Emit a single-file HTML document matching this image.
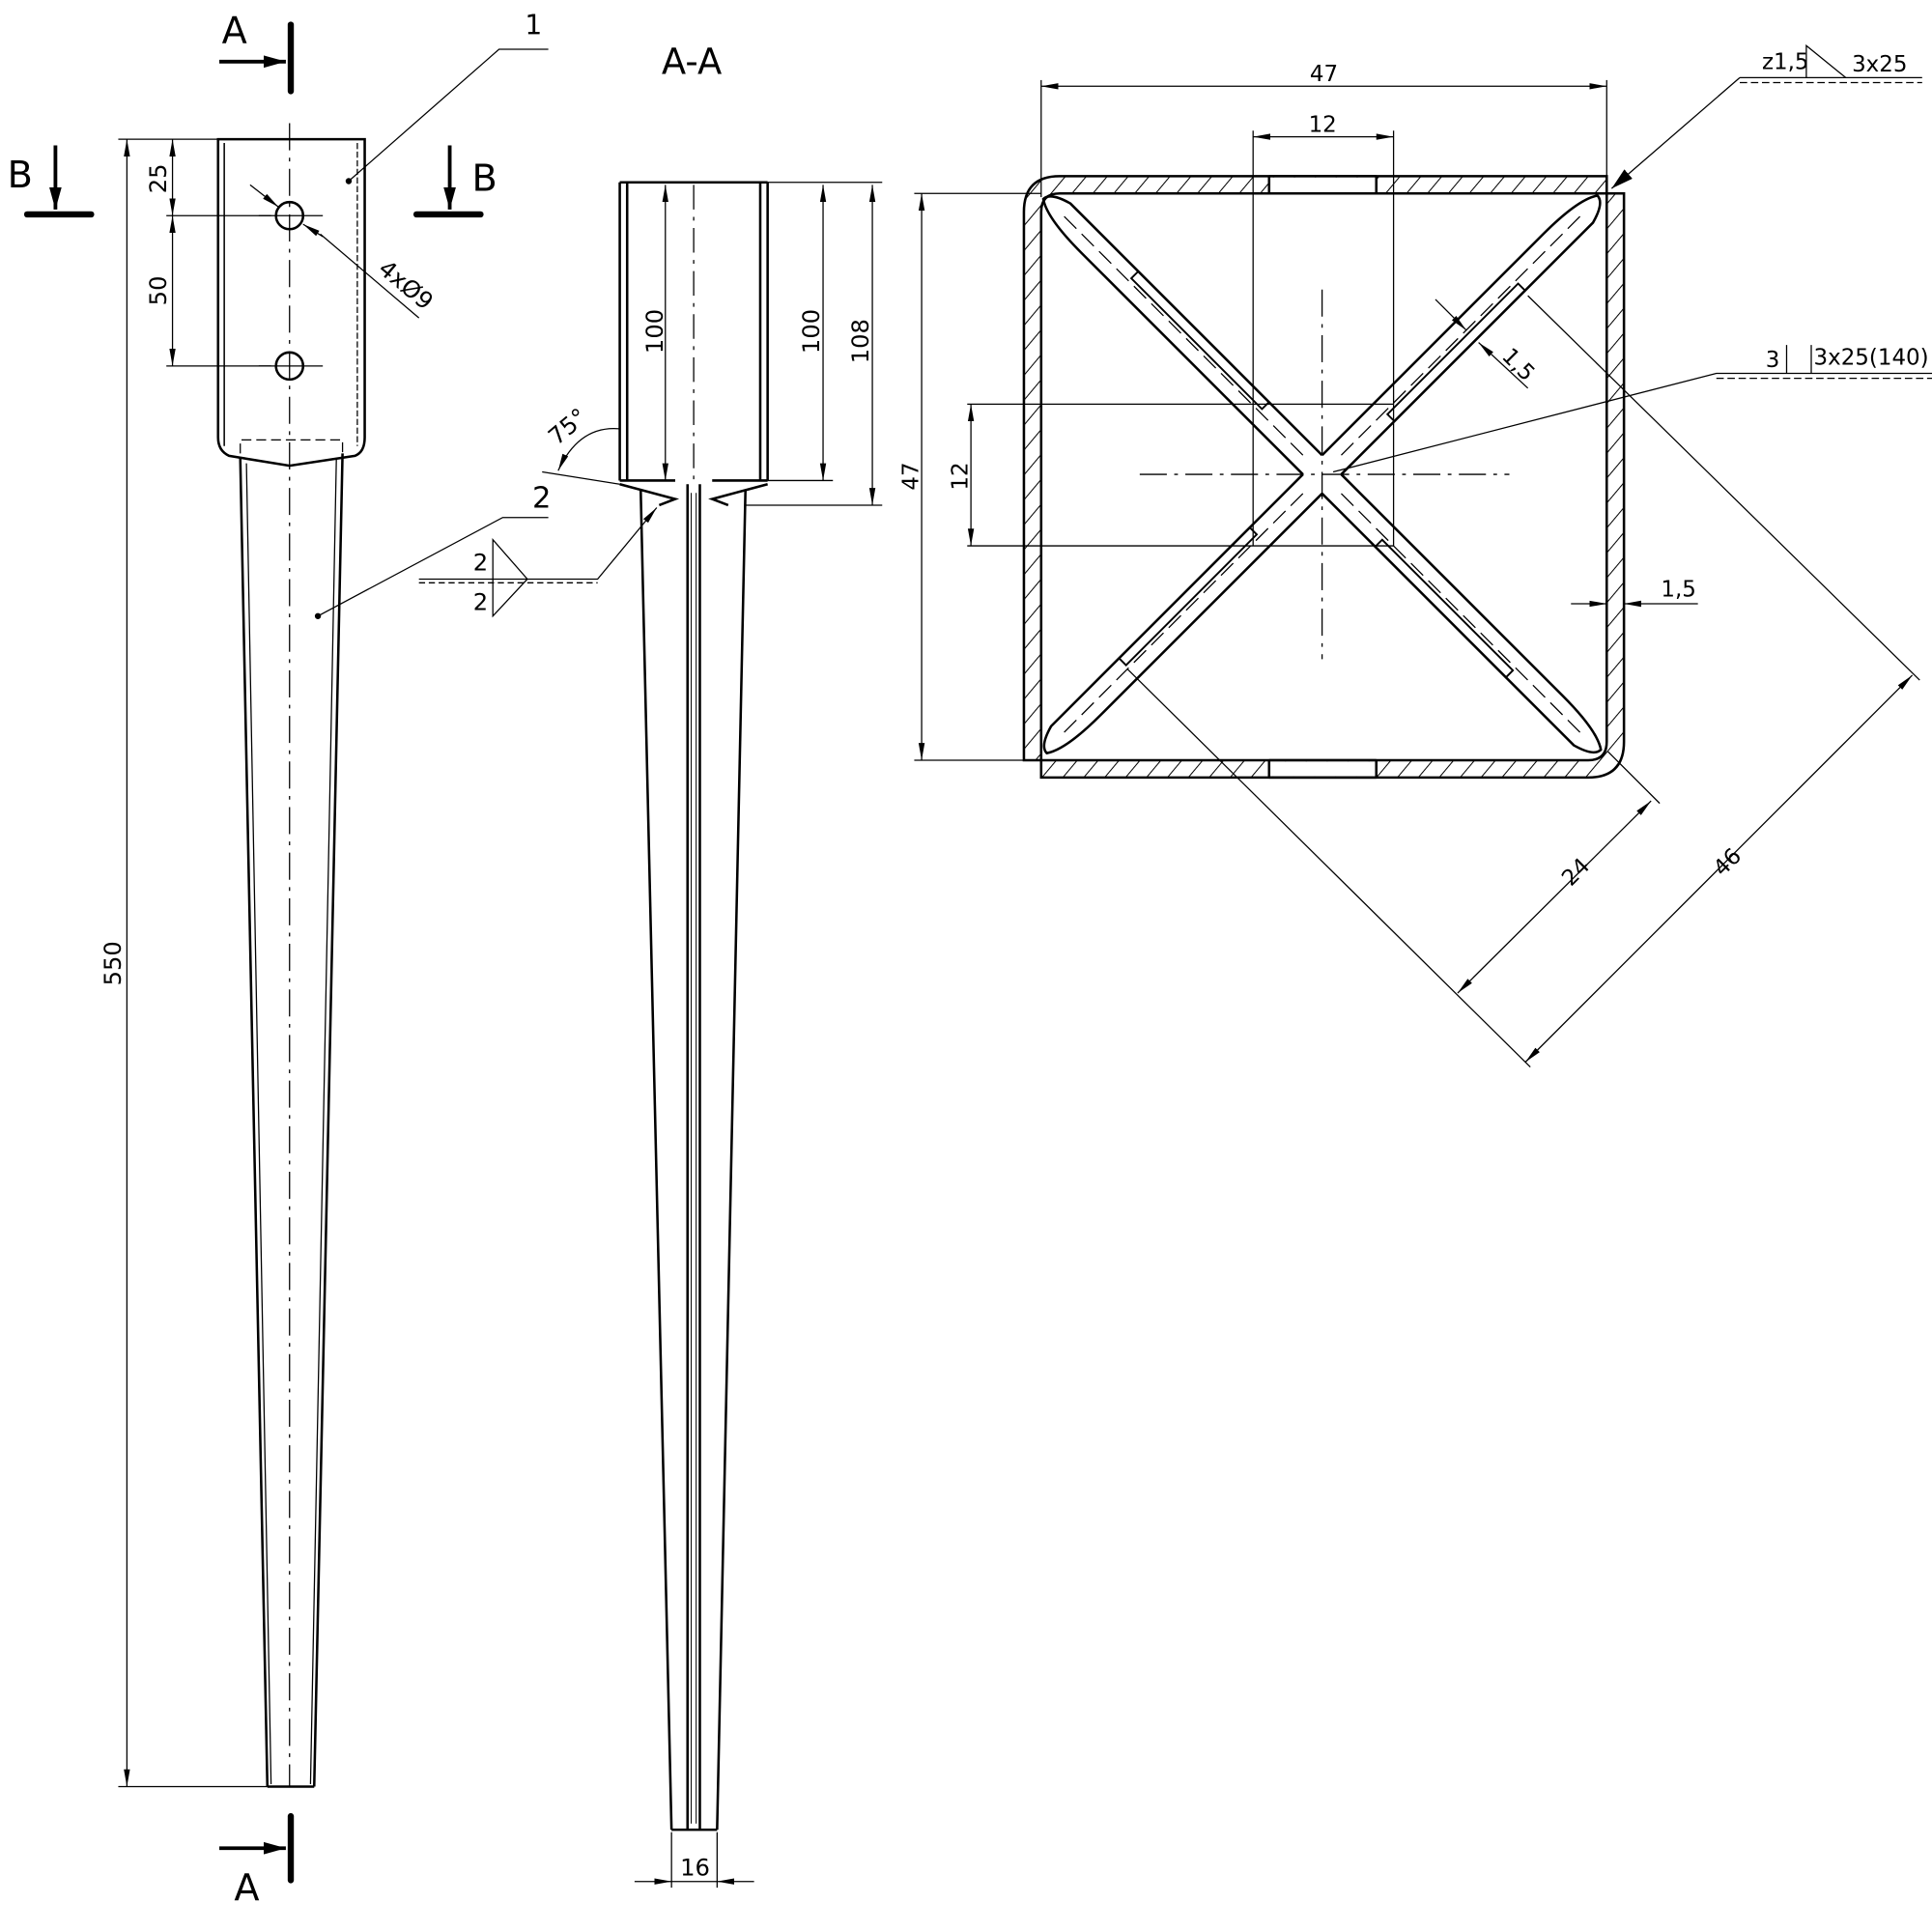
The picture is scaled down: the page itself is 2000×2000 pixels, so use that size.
<!DOCTYPE html>
<html><head><meta charset="utf-8"><style>html,body{margin:0;padding:0;background:#fff}svg{display:block}</style></head>
<body>
<svg width="2000" height="2000" viewBox="0 0 1568 1568" xmlns="http://www.w3.org/2000/svg" font-family="DejaVu Sans, Liberation Sans, sans-serif" fill="none" stroke="#000">
<defs>
<pattern id="h" width="13" height="13" patternUnits="userSpaceOnUse" patternTransform="rotate(40)">
<line x1="0" y1="0" x2="0" y2="13" stroke="#000" stroke-width="1.6"/></pattern>
<marker id="ar" viewBox="0 0 14 6" refX="14" refY="3" markerWidth="14" markerHeight="6" orient="auto-start-reverse" markerUnits="userSpaceOnUse"><path d="M0,0.5 L14,3 L0,5.5z" fill="#000" stroke="none"/></marker>
<marker id="ab" viewBox="0 0 18 10" refX="18" refY="5" markerWidth="18" markerHeight="10" orient="auto" markerUnits="userSpaceOnUse"><path d="M0,0 L18,5 L0,10z" fill="#000" stroke="none"/></marker>
<g id="arm">
<path d="M11,-11 H265 Q305,-11 318,-2 Q318,6 300,11 H11" stroke-width="2"/>
<line x1="22" y1="0" x2="300" y2="0" stroke-width="1" stroke-dasharray="14,6"/>
<rect x="72" y="3" width="150" height="8" stroke-width="1.5"/>
</g>
</defs>

<!-- ===== LEFT VIEW ===== -->
<line x1="235" y1="100" x2="235" y2="1450" stroke-width="1" stroke-dasharray="22,6,3,6"/>
<g fill="#000" stroke="none" font-size="30">
<text x="180" y="35">A</text><text x="190" y="1542">A</text>
<text x="6" y="152">B</text><text x="383" y="155">B</text>
</g>
<g stroke-width="5" stroke-linecap="round">
<line x1="236" y1="20" x2="236" y2="74"/><line x1="236" y1="1474" x2="236" y2="1526"/>
<line x1="22" y1="174" x2="74" y2="174"/><line x1="338" y1="174" x2="390" y2="174"/>
</g>
<g stroke-width="3" marker-end="url(#ab)">
<line x1="178" y1="50" x2="232" y2="50"/><line x1="178" y1="1500" x2="232" y2="1500"/>
<line x1="45" y1="118" x2="45" y2="170"/><line x1="365" y1="118" x2="365" y2="170"/>
</g>
<g stroke-width="2">
<path d="M177,113 H296 V355 Q296,367 288,370 L235,378 L186,370 Q177,366 177,355 Z"/>
<line x1="182" y1="116" x2="182" y2="362" stroke-width="1.2"/>
<line x1="290" y1="116" x2="290" y2="362" stroke-width="1" stroke-dasharray="5,2"/>
<path d="M195,368 V357 H278 V368" stroke-width="1" stroke-dasharray="8,4"/>
<circle cx="235" cy="175" r="11"/><circle cx="235" cy="297" r="11"/>
<path d="M195,372 L217,1450 M278,368 L255,1450 M217,1450 H255"/>
<path d="M200,376 L220,1448 M273,372 L252,1448" stroke-width="1"/>
</g>
<g stroke-width="1">
<line x1="210" y1="175" x2="262" y2="175"/><line x1="210" y1="297" x2="262" y2="297"/>
<line x1="96" y1="113" x2="177" y2="113"/><line x1="96" y1="1450" x2="217" y2="1450"/>
<line x1="103" y1="113" x2="103" y2="1450" marker-start="url(#ar)" marker-end="url(#ar)"/>
<line x1="135" y1="175" x2="220" y2="175"/><line x1="135" y1="297" x2="220" y2="297"/>
<line x1="140" y1="113" x2="140" y2="175" marker-start="url(#ar)" marker-end="url(#ar)"/>
<line x1="140" y1="175" x2="140" y2="297" marker-start="url(#ar)" marker-end="url(#ar)"/>
<line x1="260" y1="190" x2="340" y2="258"/>
<line x1="203" y1="150" x2="226" y2="168" marker-end="url(#ar)"/>
<line x1="262" y1="192" x2="246" y2="182" marker-end="url(#ar)"/>
<path d="M283,147 L405,40 H445"/>
<path d="M258,500 L408,420 H445"/>
<path d="M340,470 H485 L533,412" marker-end="url(#ar)"/><line x1="340" y1="473" x2="485" y2="473" stroke-dasharray="5,3"/>
<path d="M400,438 L428,470 L400,500 Z"/>
</g>
<circle cx="283" cy="147" r="2.5" fill="#000" stroke="none"/>
<circle cx="258" cy="500" r="2.5" fill="#000" stroke="none"/>
<g fill="#000" stroke="none" font-size="19">
<text transform="translate(98,800) rotate(-90)">550</text>
<text transform="translate(135,157) rotate(-90)">25</text>
<text transform="translate(135,248) rotate(-90)">50</text>
<text transform="translate(306,220) rotate(40)">4xØ9</text>
<text x="426" y="28" font-size="22">1</text>
<text x="432" y="412" font-size="24">2</text>
<text x="384" y="463">2</text><text x="384" y="495">2</text>
</g>

<!-- ===== MIDDLE A-A ===== -->
<text x="537" y="60" font-size="29" fill="#000" stroke="none">A-A</text>
<g stroke-width="2">
<path d="M503,148 V390 M623,148 V390 M509,148 V390 M617,148 V390 M503,148 H623"/>
<path d="M503,390 H548 M578,390 H623"/>
<path d="M503,393 L548,405 L535,410 M623,393 L578,405 L591,410"/>
<path d="M520,398 L545,1485 M605,398 L582,1485 M545,1485 H582"/>
<path d="M558,393 V1485 M568,393 V1485"/>
</g>
<line x1="563" y1="150" x2="563" y2="392" stroke-width="1" stroke-dasharray="20,6,3,6"/>
<line x1="561" y1="400" x2="561" y2="1480" stroke-width="0.8"/><line x1="565" y1="400" x2="565" y2="1480" stroke-width="0.8"/>
<g stroke-width="1">
<line x1="623" y1="148" x2="716" y2="148"/><line x1="623" y1="390" x2="676" y2="390"/><line x1="605" y1="410" x2="716" y2="410"/>
<line x1="540" y1="150" x2="540" y2="390" marker-start="url(#ar)" marker-end="url(#ar)"/>
<line x1="668" y1="150" x2="668" y2="390" marker-start="url(#ar)" marker-end="url(#ar)"/>
<line x1="708" y1="150" x2="708" y2="410" marker-start="url(#ar)" marker-end="url(#ar)"/>
<line x1="545" y1="1487" x2="545" y2="1532"/><line x1="582" y1="1487" x2="582" y2="1532"/>
<line x1="515" y1="1527" x2="545" y2="1527" marker-end="url(#ar)"/>
<line x1="612" y1="1527" x2="582" y2="1527" marker-end="url(#ar)"/>
<line x1="545" y1="1527" x2="582" y2="1527"/>
<line x1="440" y1="383" x2="503" y2="393"/>
<path d="M503,348 Q470,345 453,382" marker-end="url(#ar)"/>
</g>
<g fill="#000" stroke="none" font-size="19">
<text transform="translate(538,287) rotate(-90)">100</text>
<text transform="translate(665,287) rotate(-90)">100</text>
<text transform="translate(705,295) rotate(-90)">108</text>
<text x="552" y="1522">16</text>
<text transform="translate(452,362) rotate(-40)">75°</text>
</g>

<!-- ===== RIGHT VIEW ===== -->
<g stroke-width="2">
<path d="M1304,143 H860 Q831,143 831,172 V617 H845 V172 Q845,157 860,157 H1304 Z" fill="url(#h)"/>
<path d="M1304,157 H1318 V602 Q1318,631 1289,631 H845 V617 H1289 Q1304,617 1304,602 Z" fill="url(#h)"/>
<rect x="1030" y="144" width="87" height="12" fill="#fff" stroke="none"/>
<rect x="1030" y="618" width="87" height="12" fill="#fff" stroke="none"/>
<path d="M1030,143 H1117 M1030,157 H1117 M1030,617 H1117 M1030,631 H1117 M1030,143 V157 M1117,143 V157 M1030,617 V631 M1117,617 V631"/>
</g>
<g transform="translate(1073,385)">
<use href="#arm" transform="rotate(-135)"/>
<use href="#arm" transform="rotate(-45)"/>
<use href="#arm" transform="rotate(45)"/>
<use href="#arm" transform="rotate(135)"/>
</g>
<g stroke-width="1">
<line x1="1073" y1="235" x2="1073" y2="535" stroke-dasharray="22,6,3,6"/>
<line x1="925" y1="385" x2="1225" y2="385" stroke-dasharray="22,6,3,6"/>
<path d="M1017,328 V443 M1131,328 V443 M785,328 H1131 M785,443 H1131"/>
<line x1="845" y1="65" x2="845" y2="160"/><line x1="1304" y1="65" x2="1304" y2="145"/>
<line x1="845" y1="70" x2="1304" y2="70" marker-start="url(#ar)" marker-end="url(#ar)"/>
<line x1="1017" y1="106" x2="1017" y2="328"/><line x1="1131" y1="106" x2="1131" y2="328"/>
<line x1="1017" y1="111" x2="1131" y2="111" marker-start="url(#ar)" marker-end="url(#ar)"/>
<line x1="742" y1="157" x2="845" y2="157"/><line x1="742" y1="617" x2="845" y2="617"/>
<line x1="748" y1="157" x2="748" y2="617" marker-start="url(#ar)" marker-end="url(#ar)"/>
<line x1="788" y1="328" x2="788" y2="443" marker-start="url(#ar)" marker-end="url(#ar)"/>
<line x1="1275" y1="490" x2="1304" y2="490" marker-end="url(#ar)"/>
<line x1="1378" y1="490" x2="1318" y2="490" marker-end="url(#ar)"/>
<line x1="1165" y1="243" x2="1190" y2="268" marker-end="url(#ar)"/>
<line x1="1240" y1="315" x2="1200" y2="278" marker-end="url(#ar)"/>
<line x1="1240" y1="240" x2="1558" y2="552"/>
<line x1="1305" y1="610" x2="1347" y2="652"/>
<line x1="915" y1="543" x2="1242" y2="866"/>
<line x1="1552" y1="548" x2="1238" y2="862" marker-start="url(#ar)" marker-end="url(#ar)"/>
<line x1="1340" y1="650" x2="1183" y2="806" marker-start="url(#ar)" marker-end="url(#ar)"/>
<path d="M1412,63 H1560"/>
<line x1="1412" y1="63" x2="1308" y2="153" marker-end="url(#ab)"/>
<line x1="1412" y1="67" x2="1560" y2="67" stroke-dasharray="6,3"/>
<path d="M1466,63 V37 L1498,63"/>
<path d="M1082,383 L1393,303 H1568"/>
<line x1="1393" y1="307" x2="1568" y2="307" stroke-dasharray="6,3"/>
<path d="M1450,303 V280 M1470,303 V280"/>
</g>
<g fill="#000" stroke="none" font-size="18">
<text x="1063" y="66">47</text>
<text x="1062" y="107">12</text>
<text transform="translate(745,398) rotate(-90)">47</text>
<text transform="translate(785,398) rotate(-90)">12</text>
<text x="1348" y="484">1,5</text>
<text transform="translate(1218,290) rotate(45)">1,5</text>
<text transform="translate(1275,720) rotate(-45)">24</text>
<text transform="translate(1398,712) rotate(-45)">46</text>
<text x="1430" y="56">z1,5</text><text x="1503" y="58">3x25</text>
<text x="1433" y="298">3</text><text x="1472" y="296">3x25(140)</text>
</g>
</svg>
</body></html>
